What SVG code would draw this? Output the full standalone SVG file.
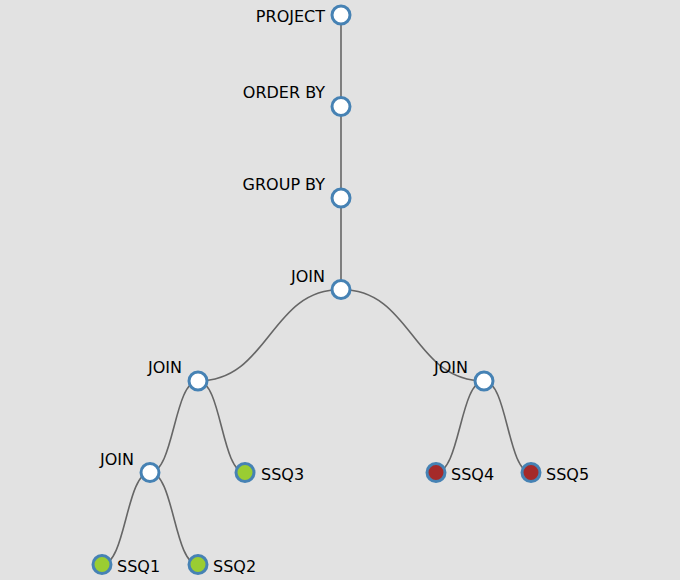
<svg xmlns="http://www.w3.org/2000/svg" width="680" height="580" viewBox="0 0 680 580">
<style>
.link{fill:none;stroke:#666;stroke-width:1.6}
.node circle{stroke:#4682b4;stroke-width:3}
.inner circle{fill:#fff}
.green circle{fill:#9acd32}
.red circle{fill:#a52a2a}
text{font-family:"DejaVu Sans",sans-serif;font-size:16px;fill:#000}
.l{text-anchor:end}
</style>
<rect width="680" height="580" fill="#e2e2e2"/>
<g id="links">
<path class="link" d="M341,15 L341,106.5"/>
<path class="link" d="M341,106.5 L341,198"/>
<path class="link" d="M341,198 L341,289.5"/>
<path class="link" d="M341,289.5 C269.5,289.5 269.5,381 198,381"/>
<path class="link" d="M341,289.5 C412.5,289.5 412.5,381 484,381"/>
<path class="link" d="M198,381 C174,381 174,472.5 150,472.5"/>
<path class="link" d="M198,381 C221.5,381 221.5,472.5 245,472.5"/>
<path class="link" d="M484,381 C460,381 460,472.5 436,472.5"/>
<path class="link" d="M484,381 C507.5,381 507.5,472.5 531,472.5"/>
<path class="link" d="M150,472.5 C126,472.5 126,564.5 102,564.5"/>
<path class="link" d="M150,472.5 C174,472.5 174,564.5 198,564.5"/>
</g>
<g id="n-project" class="node inner"><circle cx="341" cy="15" r="9"/><text class="l" x="325" y="21.5">PROJECT</text></g>
<g id="n-orderby" class="node inner"><circle cx="341" cy="106.5" r="9"/><text class="l" x="325" y="98">ORDER BY</text></g>
<g id="n-groupby" class="node inner"><circle cx="341" cy="198" r="9"/><text class="l" x="325" y="190">GROUP BY</text></g>
<g id="n-join1" class="node inner"><circle cx="341" cy="289.5" r="9"/><text class="l" x="325" y="282">JOIN</text></g>
<g id="n-join2" class="node inner"><circle cx="198" cy="381" r="9"/><text class="l" x="182" y="373">JOIN</text></g>
<g id="n-join3" class="node inner"><circle cx="484" cy="381" r="9"/><text class="l" x="468" y="373">JOIN</text></g>
<g id="n-join4" class="node inner"><circle cx="150" cy="472.5" r="9"/><text class="l" x="134" y="465">JOIN</text></g>
<g id="n-ssq3" class="node green"><circle cx="245" cy="472.5" r="9"/><text x="261" y="479.5">SSQ3</text></g>
<g id="n-ssq4" class="node red"><circle cx="436" cy="472.5" r="9"/><text x="451" y="479.5">SSQ4</text></g>
<g id="n-ssq5" class="node red"><circle cx="531" cy="472.5" r="9"/><text x="546" y="479.5">SSQ5</text></g>
<g id="n-ssq1" class="node green"><circle cx="102" cy="564.5" r="9"/><text x="117" y="571.5">SSQ1</text></g>
<g id="n-ssq2" class="node green"><circle cx="198" cy="564.5" r="9"/><text x="213" y="571.5">SSQ2</text></g>
</svg>
